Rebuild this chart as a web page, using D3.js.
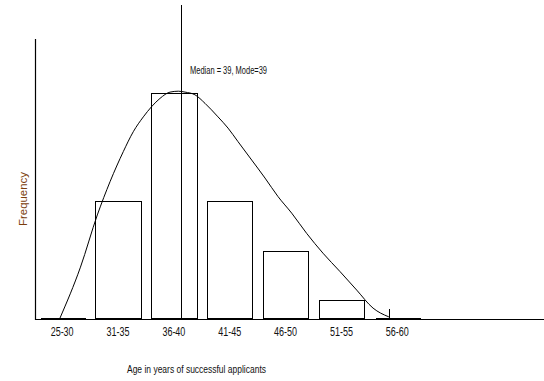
<!DOCTYPE html>
<html>
<head>
<meta charset="utf-8">
<script src="https://cdn.jsdelivr.net/npm/d3@7"></script>
<style>
  html, body { margin: 0; padding: 0; background: #fff; }
  svg { display: block; }
  text { font-family: "Liberation Sans Narrow", "Liberation Sans", Arial, sans-serif; fill: #111; }
</style>
</head>
<body>
<svg id="chart" width="544" height="381"></svg>
<script>
// ---- data ----
const categories = ["25-30", "31-35", "36-40", "41-45", "46-50", "51-55", "56-60"];
const frequencies = [0, 26, 50, 26, 15, 4, 0];

// fitted curve (age in years, frequency)
const curveAges  = [28.17, 30.0, 31.51, 32.65, 33.84, 34.73, 35.63, 36.38, 37.12, 38.02, 38.76, 39.36, 40.25, 41.15, 42.31, 43.21, 44.10, 45.33, 46.52, 47.68, 48.91, 50.25, 51.71, 53.24, 54.73, 56.19, 57.56, 57.71];
const curveFreqs = [0.0,   11.3,  22.9,  30.3,  37.0,  41.4,  44.7,  47.0,  48.8,  50.2,  50.4,  50.2,  49.6,  47.7,  44.7,  42.2,  39.2,  35.1,  31.1,  27.0,  23.3,  18.8,  14.4,  10.3,  6.2,   2.2,   0.3,   0.15];

const medianAge = 39;
const medianLabel = "Median = 39, Mode=39";
const xLabel = "Age in years of successful applicants";
const yLabel = "Frequency";

// ---- scales ----
const svg = d3.select("#chart");
const x = d3.scaleBand().domain(categories).range([39.5, 420]).paddingInner(0.19).paddingOuter(0);
const y = d3.scaleLinear().domain([0, 62]).range([318, 39]);
const xa = d3.scaleLinear().domain([25, 60]).range([24.6, 415.6]);

const px = v => Math.round(v) + 0.5;

// ---- axes lines ----
svg.append("line")
  .attr("x1", 35.5).attr("x2", 35.5)
  .attr("y1", y(62)).attr("y2", 320)
  .attr("stroke", "#000").attr("stroke-width", 1.2);

svg.append("line")
  .attr("x1", 35).attr("x2", 544)
  .attr("y1", 319.5).attr("y2", 319.5)
  .attr("stroke", "#000").attr("stroke-width", 1.2);

// ---- bars (drawn as paths so zero-height bars appear as a line) ----
svg.append("g").selectAll("path")
  .data(categories.map((c, i) => ({ c, v: frequencies[i] })))
  .join("path")
  .attr("d", d => {
    const x0 = px(x(d.c)), x1 = px(x(d.c) + x.bandwidth());
    const y0 = px(y(0)), y1 = px(y(d.v));
    return `M${x0},${y0}V${y1}H${x1}V${y0}Z`;
  })
  .attr("fill", "none")
  .attr("stroke", "#000")
  .attr("stroke-width", 1.2)
  .attr("shape-rendering", "crispEdges");

// small tick at last class
svg.append("line")
  .attr("x1", px(xa(57.6))).attr("x2", px(xa(57.6)))
  .attr("y1", y(2)).attr("y2", y(0))
  .attr("stroke", "#000").attr("stroke-width", 1)
  .attr("shape-rendering", "crispEdges");

// ---- curve ----
const line = d3.line()
  .x((d, i) => xa(curveAges[i]))
  .y((d, i) => y(curveFreqs[i]))
  .curve(d3.curveMonotoneX);
svg.append("path")
  .attr("d", line(curveAges))
  .attr("fill", "none")
  .attr("stroke", "#000")
  .attr("stroke-width", 1);

// ---- median line ----
svg.append("line")
  .attr("x1", px(xa(medianAge))).attr("x2", px(xa(medianAge)))
  .attr("y1", y(69.6)).attr("y2", 320)
  .attr("stroke", "#000").attr("stroke-width", 1.2)
  .attr("shape-rendering", "crispEdges");

svg.append("text")
  .attr("x", xa(medianAge) + 9).attr("y", 74)
  .attr("font-size", 10)
  .attr("textLength", 77).attr("lengthAdjust", "spacingAndGlyphs")
  .text(medianLabel);

// ---- tick labels ----
const xAxis = d3.axisBottom(x).tickSize(0).tickPadding(7.5);
const gx = svg.append("g").attr("transform", "translate(0,320)").call(xAxis);
gx.select(".domain").remove();
gx.selectAll("text")
  .attr("font-size", 12)
  .attr("fill", "#111")
  .style("font-family", "\"Liberation Sans Narrow\", \"Liberation Sans\", Arial, sans-serif")
  .attr("textLength", 23).attr("lengthAdjust", "spacingAndGlyphs");

// ---- axis titles ----
svg.append("text")
  .attr("x", 196.5).attr("y", 373)
  .attr("text-anchor", "middle")
  .attr("font-size", 11.5)
  .attr("textLength", 139).attr("lengthAdjust", "spacingAndGlyphs")
  .text(xLabel);

svg.append("text")
  .attr("transform", "translate(26.5,199) rotate(-90)")
  .attr("text-anchor", "middle")
  .attr("font-size", 11)
  .style("fill", "#7a3d0c")
  .style("font-family", "\"Liberation Sans\", Arial, sans-serif")
  .attr("textLength", 54).attr("lengthAdjust", "spacingAndGlyphs")
  .text(yLabel);
</script>
</body>
</html>
